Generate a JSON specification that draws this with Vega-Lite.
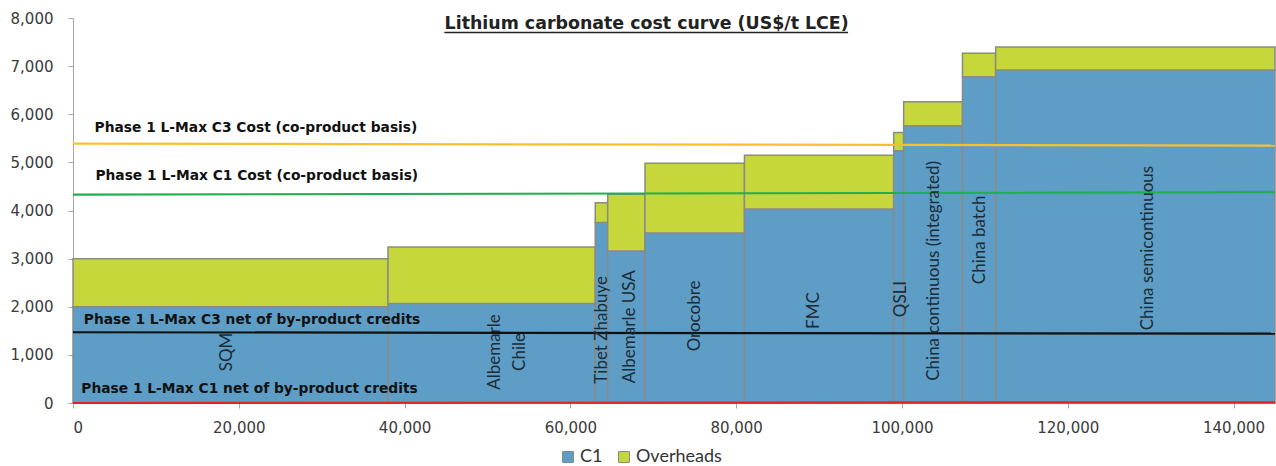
{
  "$schema": "https://vega.github.io/schema/vega-lite/v6.json",
  "width": 1202,
  "height": 385,
  "autosize": {"type": "none"},
  "padding": {"left": 73, "top": 18, "right": 1, "bottom": 63},
  "background": "white",
  "config": {
    "view": {"stroke": null},
    "axis": {"grid": false, "title": null, "labelFont": "DejaVu Sans", "labelFontSize": 15, "labelColor": "#3a3a3a", "domainColor": "#a6a6a6", "tickColor": "#a6a6a6", "tickSize": 5}
  },
  "datasets": {
    "bars": [
      {"company": "SQM", "x0": 0, "x1": 38000, "series": "C1", "lo": 0, "hi": 2000},
      {"company": "SQM", "x0": 0, "x1": 38000, "series": "Overheads", "lo": 2000, "hi": 3000},
      {"company": "Albemarle Chile", "x0": 38000, "x1": 63000, "series": "C1", "lo": 0, "hi": 2070},
      {"company": "Albemarle Chile", "x0": 38000, "x1": 63000, "series": "Overheads", "lo": 2070, "hi": 3240},
      {"company": "Tibet Zhabuye", "x0": 63000, "x1": 64500, "series": "C1", "lo": 0, "hi": 3750},
      {"company": "Tibet Zhabuye", "x0": 63000, "x1": 64500, "series": "Overheads", "lo": 3750, "hi": 4160},
      {"company": "Albemarle USA", "x0": 64500, "x1": 69000, "series": "C1", "lo": 0, "hi": 3160},
      {"company": "Albemarle USA", "x0": 64500, "x1": 69000, "series": "Overheads", "lo": 3160, "hi": 4340},
      {"company": "Orocobre", "x0": 69000, "x1": 81000, "series": "C1", "lo": 0, "hi": 3530},
      {"company": "Orocobre", "x0": 69000, "x1": 81000, "series": "Overheads", "lo": 3530, "hi": 4980},
      {"company": "FMC", "x0": 81000, "x1": 99000, "series": "C1", "lo": 0, "hi": 4030},
      {"company": "FMC", "x0": 81000, "x1": 99000, "series": "Overheads", "lo": 4030, "hi": 5150},
      {"company": "QSLI", "x0": 99000, "x1": 100200, "series": "C1", "lo": 0, "hi": 5240},
      {"company": "QSLI", "x0": 99000, "x1": 100200, "series": "Overheads", "lo": 5240, "hi": 5620},
      {"company": "China continuous (integrated)", "x0": 100200, "x1": 107300, "series": "C1", "lo": 0, "hi": 5760},
      {"company": "China continuous (integrated)", "x0": 100200, "x1": 107300, "series": "Overheads", "lo": 5760, "hi": 6260},
      {"company": "China batch", "x0": 107300, "x1": 111300, "series": "C1", "lo": 0, "hi": 6780},
      {"company": "China batch", "x0": 107300, "x1": 111300, "series": "Overheads", "lo": 6780, "hi": 7270},
      {"company": "China semicontinuous", "x0": 111300, "x1": 145000, "series": "C1", "lo": 0, "hi": 6920},
      {"company": "China semicontinuous", "x0": 111300, "x1": 145000, "series": "Overheads", "lo": 6920, "hi": 7400}
    ],
    "lines": [
      {"name": "Phase 1 L-Max C3 Cost (co-product basis)", "xa": 0, "xb": 145000, "ya": 5390, "yb": 5350, "lx": 2600, "ly": 5714},
      {"name": "Phase 1 L-Max C1 Cost (co-product basis)", "xa": 0, "xb": 145000, "ya": 4330, "yb": 4380, "lx": 2700, "ly": 4717},
      {"name": "Phase 1 L-Max C3 net of by-product credits", "xa": 0, "xb": 145000, "ya": 1470, "yb": 1440, "lx": 1300, "ly": 1725},
      {"name": "Phase 1 L-Max C1 net of by-product credits", "xa": 0, "xb": 145000, "ya": 0, "yb": 15, "lx": 1000, "ly": 291}
    ],
    "labels": [
      {"label": "SQM", "x": 18600, "y": 1060},
      {"label": "Albemarle\nChile", "x": 50850, "y": 1060},
      {"label": "Tibet Zhabuye", "x": 63800, "y": 1520},
      {"label": "Albemarle USA", "x": 67140, "y": 1585},
      {"label": "Orocobre", "x": 74980, "y": 1810},
      {"label": "FMC", "x": 89370, "y": 1920},
      {"label": "QSLI", "x": 99900, "y": 2160},
      {"label": "China continuous (integrated)", "x": 103900, "y": 2745},
      {"label": "China batch", "x": 109470, "y": 3390},
      {"label": "China semicontinuous", "x": 129700, "y": 3220}
    ],
    "heading": [
      {"text": "Lithium carbonate cost curve (US$/t LCE)", "x": 69200, "y": 7870, "u1": 44800, "u2": 93500, "uy": 7700}
    ]
  },
  "layer": [
    {
      "data": {"name": "bars"},
      "mark": {"type": "rect", "stroke": "#8a8a8a", "strokeWidth": 1.5},
      "encoding": {
        "x": {"field": "x0", "type": "quantitative", "scale": {"domain": [0, 145000], "nice": false, "zero": true},
              "axis": {"values": [0, 20000, 40000, 60000, 80000, 100000, 120000, 140000], "format": ",d", "labelPadding": 12}},
        "x2": {"field": "x1"},
        "y": {"field": "lo", "type": "quantitative", "scale": {"domain": [0, 8000], "nice": false},
              "axis": {"values": [0, 1000, 2000, 3000, 4000, 5000, 6000, 7000, 8000], "format": ",d", "labelPadding": 15}},
        "y2": {"field": "hi"},
        "color": {"field": "series", "type": "nominal",
                  "scale": {"domain": ["C1", "Overheads"], "range": ["#5E9EC6", "#C6D73C"]},
                  "legend": {"title": null, "orient": "none", "direction": "horizontal", "legendX": 486, "legendY": 430,
                             "symbolType": "square", "symbolSize": 120, "symbolStrokeColor": "#8a8a8a", "symbolStrokeWidth": 1,
                             "labelFont": "Lato", "labelFontSize": 18, "labelColor": "#333333", "labelOffset": 3, "columnPadding": 12, "padding": 0}}
      }
    },
    {
      "data": {"name": "lines"},
      "mark": {"type": "rule", "strokeWidth": 2.2},
      "encoding": {
        "x": {"field": "xa", "type": "quantitative"},
        "x2": {"field": "xb"},
        "y": {"field": "ya", "type": "quantitative"},
        "y2": {"field": "yb"},
        "stroke": {"field": "name", "type": "nominal", "legend": null,
                   "scale": {"domain": ["Phase 1 L-Max C3 Cost (co-product basis)", "Phase 1 L-Max C1 Cost (co-product basis)", "Phase 1 L-Max C3 net of by-product credits", "Phase 1 L-Max C1 net of by-product credits"],
                             "range": ["#F7C12E", "#1FAE50", "#111111", "#E32222"]}}
      }
    },
    {
      "data": {"name": "lines"},
      "mark": {"type": "text", "align": "left", "baseline": "middle", "font": "DejaVu Sans", "fontWeight": "bold", "fontSize": 13.8, "color": "#111111"},
      "encoding": {
        "x": {"field": "lx", "type": "quantitative"},
        "y": {"field": "ly", "type": "quantitative"},
        "text": {"field": "name"}
      }
    },
    {
      "data": {"name": "labels"},
      "mark": {"type": "text", "angle": 270, "align": "center", "baseline": "middle", "font": "Lato", "fontSize": 17, "lineBreak": "\n", "lineHeight": 25, "color": "#1c2b36"},
      "encoding": {
        "x": {"field": "x", "type": "quantitative"},
        "y": {"field": "y", "type": "quantitative"},
        "text": {"field": "label"}
      }
    },
    {
      "data": {"name": "heading"},
      "mark": {"type": "text", "align": "center", "baseline": "middle", "font": "DejaVu Sans", "fontWeight": "bold", "fontSize": 17.4, "color": "#222222"},
      "encoding": {
        "x": {"field": "x", "type": "quantitative"},
        "y": {"field": "y", "type": "quantitative"},
        "text": {"field": "text"}
      }
    },
    {
      "data": {"name": "heading"},
      "mark": {"type": "rule", "strokeWidth": 1.5, "color": "#222222"},
      "encoding": {
        "x": {"field": "u1", "type": "quantitative"},
        "x2": {"field": "u2"},
        "y": {"field": "uy", "type": "quantitative"}
      }
    }
  ]
}
